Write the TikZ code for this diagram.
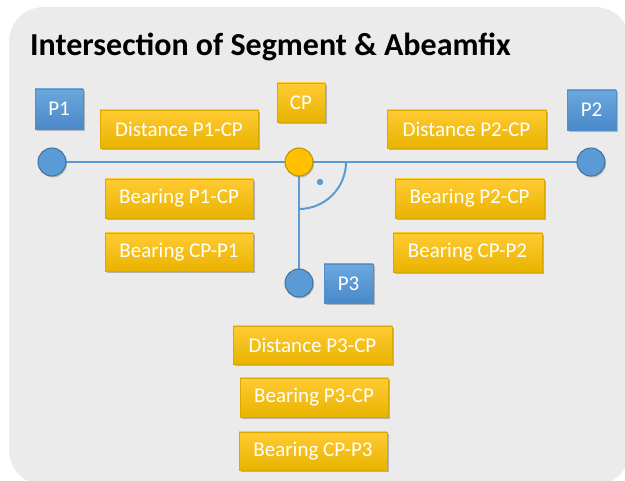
\documentclass[tikz,border=0pt]{standalone}
\usepackage{fontspec}
\setmainfont{Carlito}
\usetikzlibrary{shadows}

\definecolor{panel}{HTML}{EBEBEB}
\definecolor{goldtop}{HTML}{FFCB33}
\definecolor{goldbot}{HTML}{E9B300}
\definecolor{goldedge}{HTML}{DDA800}
\definecolor{bluetop}{HTML}{6CA7DD}
\definecolor{bluebot}{HTML}{4A89C9}
\definecolor{blueedge}{HTML}{4F8FCC}
\definecolor{lineblue}{HTML}{5B9BD5}
\definecolor{ringblue}{HTML}{41719C}
\definecolor{cpfill}{HTML}{FFC000}
\definecolor{cpring}{HTML}{BF9000}

\tikzset{
  softshadow/.style={drop shadow={shadow xshift=1.5pt, shadow yshift=-2pt, opacity=0.35, fill=black!70}},
  goldbox/.style={rectangle, draw=goldedge, line width=0.4pt, top color=goldtop, bottom color=goldbot,
    text=white, font=\fontsize{21}{23}\selectfont, inner sep=0pt, softshadow},
  bluebox/.style={rectangle, draw=blueedge, line width=0.4pt, top color=bluetop, bottom color=bluebot,
    text=white, font=\fontsize{21}{23}\selectfont, inner sep=0pt, softshadow},
  endpt/.style={circle, minimum size=28pt, inner sep=0pt, fill=lineblue, draw=ringblue, line width=1pt,
    drop shadow={shadow xshift=1pt, shadow yshift=-1.5pt, opacity=0.3, fill=black!70}},
  cppt/.style={endpt, fill=cpfill, draw=cpring},
  segline/.style={draw=lineblue, line width=2pt},
}

\begin{document}
\begin{tikzpicture}[x=1pt, y=-1pt]
  \useasboundingbox (0,0) rectangle (625,481);
  % background panel
  \fill[panel, rounded corners=35pt] (9,7) rectangle (630,485);

  % title
  \node[anchor=base west, inner sep=0pt, font=\fontsize{32}{38}\selectfont\bfseries] (title) at (30,56)
    {Intersection of Segment \& Abeamfix};

  % connecting segments
  \coordinate (p1) at (52,162);
  \coordinate (cp) at (299,162);
  \coordinate (p2) at (591,162);
  \coordinate (p3) at (299,283);
  \draw[segline] (p1) -- (p2);
  \draw[segline] (cp) -- (p3);

  % right-angle mark
  \draw[segline] ([xshift=47pt]cp) arc[start angle=0, end angle=-90, radius=47pt];
  \fill[lineblue] (320,182) circle[radius=3.2pt];

  % points
  \node[endpt] (p1c) at (p1) {};
  \node[endpt] (p2c) at (p2) {};
  \node[endpt] (p3c) at (p3) {};
  \node[cppt]  (cpc) at (cp) {};

  % point labels
  \node[bluebox, minimum width=48pt, minimum height=40pt] (lp1) at (59,109) {P1};
  \node[goldbox, minimum width=48pt, minimum height=39pt] (lcp) at (301,102.5) {CP};
  \node[bluebox, minimum width=49pt, minimum height=40pt] (lp2) at (591.5,110) {P2};
  \node[bluebox, minimum width=49pt, minimum height=39pt] (lp3) at (348.5,283.5) {P3};

  % computed quantities
  \node[goldbox, minimum width=158pt, minimum height=38pt] (d1) at (179,129) {Distance P1-CP};
  \node[goldbox, minimum width=148pt, minimum height=39pt] (b1) at (179,198.5) {Bearing P1-CP};
  \node[goldbox, minimum width=148pt, minimum height=38pt] (c1) at (179,252) {Bearing CP-P1};

  \node[goldbox, minimum width=159pt, minimum height=38pt] (d2) at (466.5,129) {Distance P2-CP};
  \node[goldbox, minimum width=149pt, minimum height=39pt] (b2) at (469.5,198.5) {Bearing P2-CP};
  \node[goldbox, minimum width=149pt, minimum height=39pt] (c2) at (467.5,252.5) {Bearing CP-P2};

  \node[goldbox, minimum width=159pt, minimum height=38pt] (d3) at (312.5,345) {Distance P3-CP};
  \node[goldbox, minimum width=148pt, minimum height=39pt] (b3) at (314,397.5) {Bearing P3-CP};
  \node[goldbox, minimum width=148pt, minimum height=38pt] (c3) at (313,451) {Bearing CP-P3};
\end{tikzpicture}
\end{document}
